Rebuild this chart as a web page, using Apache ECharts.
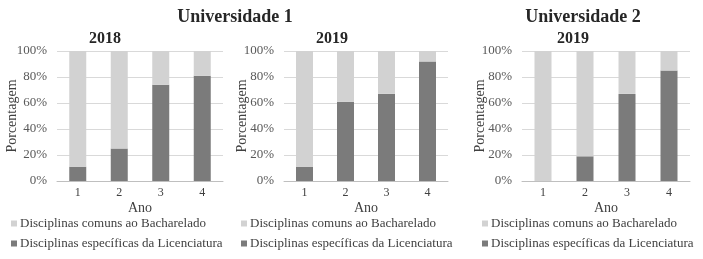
<!DOCTYPE html>
<html>
<head>
<meta charset="utf-8">
<script src="https://cdn.jsdelivr.net/npm/echarts@6/dist/echarts.min.js"></script>
<style>
  html, body { margin: 0; padding: 0; background: #fff; }
  #chart { width: 703px; height: 259px; }
</style>
</head>
<body>
<div id="chart"></div>
<script>
// dados
var anos = ['1', '2', '3', '4'];
var nomeComuns = 'Disciplinas comuns ao Bacharelado';
var nomeEspecificas = 'Disciplinas específicas da Licenciatura';
var u1_2018_especificas = [11, 25, 74, 81];
var u1_2018_comuns = [89, 75, 26, 19];
var u1_2019_especificas = [11, 61, 67, 92];
var u1_2019_comuns = [89, 39, 33, 8];
var u2_2019_especificas = [0, 19, 67, 85];
var u2_2019_comuns = [100, 81, 33, 15];
var yTicks = [0, 20, 40, 60, 80, 100];

var fonte = 'Liberation Serif';
var corClara = '#d2d2d2';
var corEscura = '#7b7b7b';

var grids = [
  { left: 57, width: 166, top: 51, height: 130 },
  { left: 284, width: 164, top: 51, height: 130 },
  { left: 522, width: 168, top: 51, height: 130 }
];
var nameGaps = [38, 35, 35];

function eixoX(i) {
  return {
    type: 'category', gridIndex: i, data: anos,
    name: 'Ano', nameLocation: 'middle', nameGap: 20, nameMoveOverlap: false,
    nameTextStyle: { fontFamily: fonte, fontSize: 14, color: '#404040' },
    axisLine: { lineStyle: { color: '#bfbfbf' } },
    axisTick: { show: false },
    axisLabel: { fontFamily: fonte, fontSize: 12, color: '#404040', margin: 6 }
  };
}
function eixoY(i) {
  return {
    type: 'value', gridIndex: i, min: 0, max: 100, interval: 20,
    name: 'Porcentagem', nameLocation: 'middle', nameGap: nameGaps[i], nameRotate: 90,
    nameMoveOverlap: false,
    nameTextStyle: { fontFamily: fonte, fontSize: 14, color: '#404040' },
    axisLine: { show: false }, axisTick: { show: false },
    splitLine: { lineStyle: { color: '#d9d9d9' } },
    axisLabel: { fontFamily: fonte, fontSize: 13, color: '#595959', margin: 10,
      formatter: function (v) { return yTicks.indexOf(v) >= 0 ? v + '%' : ''; } }
  };
}
function barras(nome, dados, cor, i) {
  return {
    name: nome, type: 'bar', stack: 's' + i, xAxisIndex: i, yAxisIndex: i,
    data: dados, barWidth: 17, itemStyle: { color: cor }, silent: true
  };
}
function legenda(x) {
  return {
    left: x, top: 217, padding: 0, orient: 'vertical', itemWidth: 6, itemHeight: 6, itemGap: 7,
    icon: 'rect', data: [nomeComuns, nomeEspecificas],
    textStyle: { fontFamily: fonte, fontSize: 13, color: '#404040', padding: [0, 0, 0, -2] },
    selectedMode: false
  };
}

var chart = echarts.init(document.getElementById('chart'));
chart.setOption({
  animation: false,
  backgroundColor: '#fff',
  title: [
    { text: 'Universidade 1', left: 230, top: 3, textAlign: 'center',
      textStyle: { fontFamily: fonte, fontSize: 18, fontWeight: 'bold', color: '#262626' } },
    { text: 'Universidade 2', left: 578, top: 3, textAlign: 'center',
      textStyle: { fontFamily: fonte, fontSize: 18, fontWeight: 'bold', color: '#262626' } },
    { text: '2018', left: 100, top: 26, textAlign: 'center',
      textStyle: { fontFamily: fonte, fontSize: 16, fontWeight: 'bold', color: '#262626' } },
    { text: '2019', left: 327, top: 26, textAlign: 'center',
      textStyle: { fontFamily: fonte, fontSize: 16, fontWeight: 'bold', color: '#262626' } },
    { text: '2019', left: 568, top: 26, textAlign: 'center',
      textStyle: { fontFamily: fonte, fontSize: 16, fontWeight: 'bold', color: '#262626' } }
  ],
  legend: [legenda(11), legenda(241), legenda(482)],
  grid: grids,
  xAxis: [eixoX(0), eixoX(1), eixoX(2)],
  yAxis: [eixoY(0), eixoY(1), eixoY(2)],
  series: [
    barras(nomeEspecificas, u1_2018_especificas, corEscura, 0),
    barras(nomeComuns, u1_2018_comuns, corClara, 0),
    barras(nomeEspecificas, u1_2019_especificas, corEscura, 1),
    barras(nomeComuns, u1_2019_comuns, corClara, 1),
    barras(nomeEspecificas, u2_2019_especificas, corEscura, 2),
    barras(nomeComuns, u2_2019_comuns, corClara, 2)
  ]
});
</script>
</body>
</html>
